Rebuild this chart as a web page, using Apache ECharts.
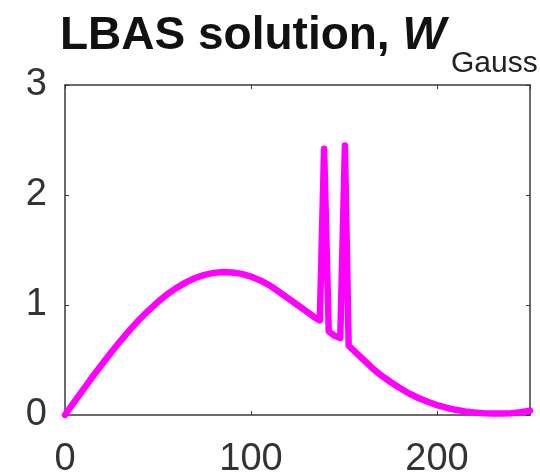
<!DOCTYPE html>
<html>
<head>
<meta charset="utf-8">
<script src="https://cdn.jsdelivr.net/npm/echarts@6/dist/echarts.min.js"></script>
<style>
html,body{margin:0;padding:0;background:#fff;}
#c{width:540px;height:476px;}
</style>
</head>
<body>
<div id="c"></div>
<script>
// Data
const xValues = [0, 5, 10, 15, 20, 25, 30, 35, 40, 45, 50, 55, 60, 65, 70, 75, 80, 85, 90, 95, 100, 105, 110, 115, 120, 125, 130, 134, 137,
                 139.3, 141.8, 145, 148, 150.5, 152.5, 155, 160, 165, 170, 175, 180, 185, 190, 195, 200, 205, 210, 215, 220, 225, 230, 235, 240, 245, 250];
const yValues = [0.0, 0.12, 0.236, 0.352, 0.464, 0.573, 0.677, 0.776, 0.868, 0.952, 1.029, 1.098, 1.156, 1.206, 1.245, 1.274, 1.292, 1.300, 1.296, 1.283, 1.258, 1.223, 1.178, 1.12, 1.06, 1.00, 0.94, 0.89, 0.86,
                 2.42, 0.76, 0.72, 0.70, 2.45, 0.63, 0.59, 0.51, 0.43, 0.36, 0.30, 0.245, 0.195, 0.155, 0.12, 0.09, 0.066, 0.047, 0.033, 0.023, 0.017, 0.014, 0.014, 0.017, 0.025, 0.04];
const xTicks = [0, 100, 200];
const yTicks = [0, 1, 2, 3];
const titleMain = 'LBAS solution, ';
const titleVar = 'W';
const titleSub = 'Gauss';

const seriesData = xValues.map((x, i) => [x, yValues[i]]);
const font = 'Liberation Sans, Arial, Helvetica, sans-serif';
const axisColor = '#3a3a3a';

const chart = echarts.init(document.getElementById('c'), null, {renderer: 'canvas'});
chart.setOption({
  backgroundColor: '#ffffff',
  animation: false,
  title: [
    {
      text: '{a|' + titleMain + '}{w|' + titleVar + '}',
      left: 60, top: 13, padding: 0,
      textStyle: {
        rich: {
          a: {fontFamily: font, fontSize: 46, fontWeight: 'bold', color: '#111'},
          w: {fontFamily: font, fontSize: 46, fontWeight: 'bold', fontStyle: 'italic', color: '#111'}
        }
      }
    },
    {
      text: titleSub,
      left: 451, top: 49, padding: 0,
      textStyle: {fontFamily: font, fontSize: 30, fontWeight: 'normal', color: '#222'}
    }
  ],
  grid: {left: 65, right: 10, top: 85, bottom: 61, containLabel: false, outerBoundsMode: 'none'},
  xAxis: [
    {
      type: 'value', min: xTicks[0], max: 250, interval: 100, position: 'bottom',
      axisLine: {show: true, onZero: false, lineStyle: {color: axisColor, width: 1.5}},
      axisTick: {show: true, inside: true, length: 4, lineStyle: {color: axisColor}},
      splitLine: {show: false},
      axisLabel: {fontFamily: font, fontSize: 38, color: '#333', margin: 26,
        formatter: v => xTicks.includes(v) ? String(v) : ''}
    },
    {
      type: 'value', min: xTicks[0], max: 250, interval: 100, position: 'top',
      axisLine: {show: true, onZero: false, lineStyle: {color: axisColor, width: 1.5}},
      axisTick: {show: true, inside: true, length: 4, lineStyle: {color: axisColor}},
      splitLine: {show: false}, axisLabel: {show: false}
    }
  ],
  yAxis: [
    {
      type: 'value', min: yTicks[0], max: yTicks[yTicks.length - 1], interval: 1, position: 'left',
      axisLine: {show: true, onZero: false, lineStyle: {color: axisColor, width: 1.5}},
      axisTick: {show: true, inside: true, length: 4, lineStyle: {color: axisColor}},
      splitLine: {show: false},
      axisLabel: {fontFamily: font, fontSize: 38, color: '#333', margin: 18}
    },
    {
      type: 'value', min: yTicks[0], max: yTicks[yTicks.length - 1], interval: 1, position: 'right',
      axisLine: {show: true, onZero: false, lineStyle: {color: axisColor, width: 1.5}},
      axisTick: {show: true, inside: true, length: 4, lineStyle: {color: axisColor}},
      splitLine: {show: false}, axisLabel: {show: false}
    }
  ],
  series: [
    {
      type: 'line', xAxisIndex: 0, yAxisIndex: 0,
      data: seriesData,
      showSymbol: false, smooth: false,
      lineStyle: {color: '#ff00ff', width: 6.5, join: 'round', cap: 'round'},
      itemStyle: {color: '#ff00ff'}
    }
  ]
});
</script>
</body>
</html>
